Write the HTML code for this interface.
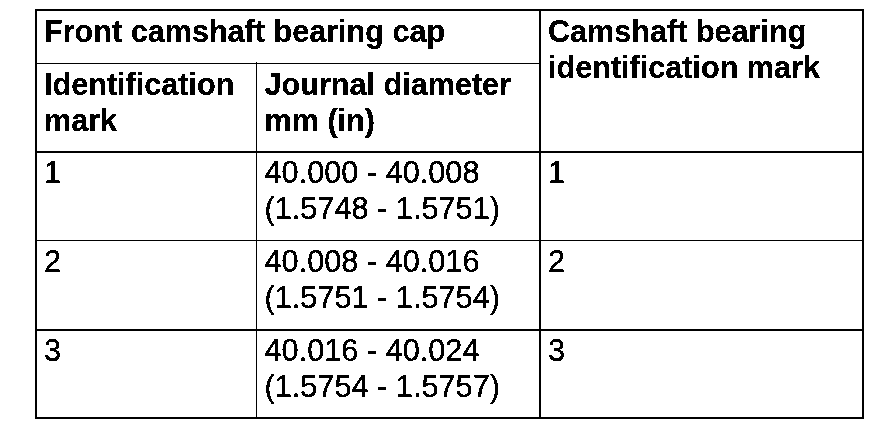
<!DOCTYPE html>
<html>
<head>
<meta charset="utf-8">
<title>Camshaft bearing table</title>
<style>
html,body{margin:0;padding:0;background:#fff;}
body{width:896px;height:440px;position:relative;overflow:hidden;font-family:"Liberation Sans",Arial,sans-serif;color:#000;}
.l{position:absolute;background:#000;}
.t{position:absolute;font-size:30.7px;line-height:36px;white-space:nowrap;filter:url(#thr);-webkit-text-stroke:0.2px #000;}
.b{font-weight:bold;font-size:30.6px;-webkit-text-stroke:0.1px #000;}
</style>
</head>
<body>
<svg width="0" height="0" style="position:absolute"><defs><filter id="thr" x="0" y="0" width="100%" height="100%" color-interpolation-filters="sRGB"><feComponentTransfer><feFuncA type="discrete" tableValues="0 0 1 1 1"/></feComponentTransfer></filter></defs></svg>
<!-- outer border -->
<div class="l" style="left:35px;top:9px;width:829px;height:2px"></div>
<div class="l" style="left:35px;top:417px;width:829px;height:2px"></div>
<div class="l" style="left:35px;top:9px;width:2px;height:410px"></div>
<div class="l" style="left:862px;top:9px;width:2px;height:410px"></div>
<!-- inner verticals -->
<div class="l" style="left:539px;top:9px;width:2px;height:410px"></div>
<div class="l" style="left:256px;top:62px;width:1px;height:356px"></div>
<!-- inner horizontals -->
<div class="l" style="left:35px;top:63px;width:505px;height:1px"></div>
<div class="l" style="left:35px;top:151px;width:829px;height:2px"></div>
<div class="l" style="left:35px;top:240px;width:829px;height:1px"></div>
<div class="l" style="left:35px;top:329px;width:829px;height:2px"></div>

<div class="t b" style="left:44px;top:13px">Front camshaft bearing cap</div>
<div class="t b" style="left:548px;top:13px">Camshaft bearing<br>identification mark</div>
<div class="t b" style="left:44px;top:66px">Identification<br>mark</div>
<div class="t b" style="left:264.5px;top:66px">Journal diameter<br>mm (in)</div>

<div class="t" style="left:44px;top:155px">1</div>
<div class="t" style="left:264.5px;top:155px">40.000 - 40.008<br>(1.5748 - 1.5751)</div>
<div class="t" style="left:548px;top:155px">1</div>

<div class="t" style="left:44px;top:244px">2</div>
<div class="t" style="left:264.5px;top:244px">40.008 - 40.016<br>(1.5751 - 1.5754)</div>
<div class="t" style="left:548px;top:244px">2</div>

<div class="t" style="left:44px;top:333px">3</div>
<div class="t" style="left:264.5px;top:333px">40.016 - 40.024<br>(1.5754 - 1.5757)</div>
<div class="t" style="left:548px;top:333px">3</div>
</body>
</html>
